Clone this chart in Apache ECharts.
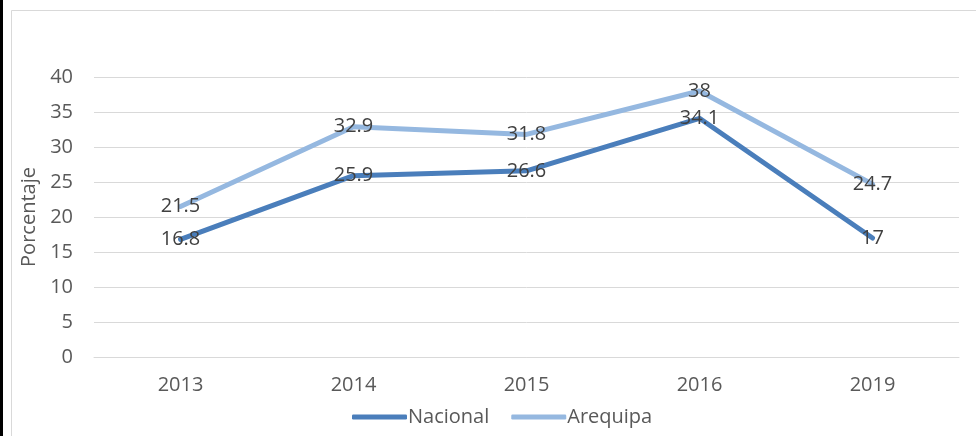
<!DOCTYPE html>
<html>
<head>
<meta charset="utf-8">
<script src="https://cdn.jsdelivr.net/npm/echarts@6/dist/echarts.min.js"></script>
<style>
  html, body { margin: 0; padding: 0; background: #fff; }
  #chart { width: 976px; height: 436px; }
</style>
</head>
<body>
<div id="chart"></div>
<script>
const years = ['2013', '2014', '2015', '2016', '2019'];
const nacional = [16.8, 25.9, 26.6, 34.1, 17];
const arequipa = [21.5, 32.9, 31.8, 38, 24.7];

const FONT = '"Open Sans", "Liberation Sans", sans-serif';

const chart = echarts.init(document.getElementById('chart'));

function lineSeries(name, data, color, z) {
    return {
        name: name,
        type: 'line',
        data: data,
        z: z,
        symbol: 'circle',
        symbolSize: 0.01,
        itemStyle: { color: color },
        lineStyle: { color: color, width: 5, cap: 'round', join: 'round' },
        label: {
            show: true,
            position: 'inside',
            color: '#404040',
            fontSize: 20,
            fontFamily: FONT
        },
        emphasis: { disabled: true },
        animation: false
    };
}

chart.setOption({
    backgroundColor: '#fff',
    graphic: [
        { type: 'rect', shape: { x: 11.5, y: 10.5, width: 1100, height: 600 },
          style: { fill: 'none', stroke: '#d9d9d9', lineWidth: 1 }, silent: true },
        { type: 'rect', shape: { x: 0, y: 0, width: 3, height: 436 },
          style: { fill: '#000' }, silent: true }
    ],
    grid: { left: 94, right: 17, top: 77, bottom: 79 },
    legend: {
        data: ['Nacional', 'Arequipa'],
        bottom: 4,
        left: 347,
        icon: 'roundRect',
        itemWidth: 55,
        itemHeight: 5,
        itemGap: 22,
        textStyle: { color: '#595959', fontSize: 20, fontFamily: FONT, padding: [0, 0, 0, -4] }
    },
    xAxis: {
        type: 'category',
        data: years,
        boundaryGap: true,
        axisLine: { show: true, lineStyle: { color: '#d9d9d9', width: 1 } },
        axisTick: { show: false },
        axisLabel: { color: '#595959', fontSize: 20, fontFamily: FONT, margin: 18 }
    },
    yAxis: {
        type: 'value',
        min: 0,
        max: 40,
        interval: 5,
        name: 'Porcentaje',
        nameLocation: 'middle',
        nameGap: 52,
        nameTextStyle: { color: '#595959', fontSize: 20, fontFamily: FONT },
        axisLine: { show: false },
        axisTick: { show: false },
        splitLine: { lineStyle: { color: '#d9d9d9', width: 1 } },
        axisLabel: { color: '#595959', fontSize: 20, fontFamily: FONT, margin: 21 }
    },
    series: [
        lineSeries('Nacional', nacional, '#4a7ebb', 3),
        lineSeries('Arequipa', arequipa, '#95b8e0', 2)
    ]
});
</script>
</body>
</html>
